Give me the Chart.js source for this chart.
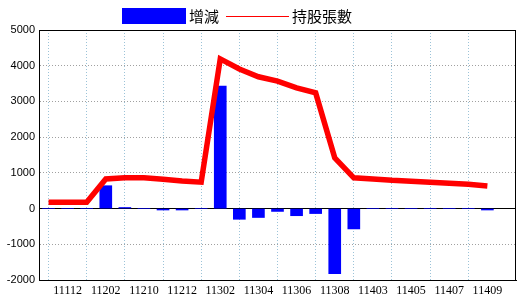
<!DOCTYPE html>
<html>
<head>
<meta charset="utf-8">
<script src="https://cdn.jsdelivr.net/npm/chart.js@4"></script>
<style>
  html, body { margin: 0; padding: 0; background: #fff; }
  canvas { display: block; }
</style>
</head>
<body>
<canvas id="holding-chart" width="520" height="300"></canvas>
<script>
// ---------- Data ----------
// 月份 (民國年+月)，最後一格留空
const months = ['11111', '11112', '11201', '11202', '11209', '11210', '11211', '11212',
    '11301', '11302', '11303', '11304', '11305', '11306', '11307', '11308',
    '11309', '11403', '11404', '11405', '11406', '11407', '11408', '11409', ''];

// 增減 (張)
const changes = [0, 0, 0, 640, 30, 0, -40, -40, 0, 3430, -300, -250, -80, -200, -140,
    -1820, -570, 0, 0, 0, 0, 0, 0, -40, null];

// 持股張數
const holdings = [180, 180, 180, 830, 860, 860, 820, 770, 740, 4190, 3910, 3690, 3570,
    3380, 3240, 1420, 860, 830, 790, 765, 735, 710, 680, 630, null];

const yTicks = { min: -2000, max: 5000, step: 1000 };

// ---------- Plugins ----------
// 外框
const frameBox = {
    id: 'frameBox',
    afterDraw(chart) {
        const { ctx, chartArea: a } = chart;
        ctx.save();
        ctx.strokeStyle = '#000';
        ctx.lineWidth = 1;
        ctx.strokeRect(a.left + 0.5, a.top + 0.5, a.right - a.left - 1, a.bottom - a.top);
        ctx.restore();
    },
};

// 上方圖例 (自己畫，位置對齊原圖)
const topLegend = {
    id: 'topLegend',
    afterDraw(chart) {
        const { ctx } = chart;
        const bar = chart.data.datasets.find(d => d.type === 'bar');
        const line = chart.data.datasets.find(d => d.type === 'line');
        ctx.save();
        ctx.font = '15px "Noto Sans CJK TC"';
        ctx.textBaseline = 'middle';
        ctx.fillStyle = bar.backgroundColor;
        ctx.fillRect(122, 8, 64, 16);
        ctx.fillStyle = '#000';
        ctx.fillText(bar.label, 189, 16);
        ctx.strokeStyle = line.borderColor;
        ctx.lineWidth = 1;
        ctx.beginPath();
        ctx.moveTo(226, 16.5);
        ctx.lineTo(289, 16.5);
        ctx.stroke();
        ctx.fillText(line.label, 292, 16);
        ctx.restore();
    },
};

// ---------- Chart ----------
new Chart(document.getElementById('holding-chart').getContext('2d'), {
    type: 'bar',
    data: {
        labels: months,
        datasets: [
            {
                type: 'line',
                label: '持股張數',
                data: holdings,
                borderColor: '#ff0000',
                backgroundColor: '#ff0000',
                borderWidth: 5.5,
                pointRadius: 0,
                tension: 0,
                order: 0,
            },
            {
                type: 'bar',
                label: '增減',
                data: changes,
                backgroundColor: '#0000ff',
                barThickness: 12,
                order: 1,
            },
        ],
    },
    options: {
        responsive: false,
        animation: false,
        events: [],
        layout: { padding: { top: 30, right: 4, left: 0, bottom: 0 } },
        plugins: {
            legend: { display: false },
            tooltip: { enabled: false },
        },
        scales: {
            x: {
                offset: true,
                afterFit: (s) => { s.height = 20; },
                grid: {
                    offset: false,
                    drawTicks: false,
                    lineWidth: 1,
                    color: (c) => (c.index % 2 === 0 && c.index < months.length - 1) ? '#9cc3d8' : 'rgba(0,0,0,0)',
                },
                border: { display: true, color: '#000', width: 1, dash: [1, 2] },
                ticks: {
                    autoSkip: false,
                    maxRotation: 0,
                    padding: 4,
                    color: '#000',
                    font: { family: '"Liberation Serif"', size: 12 },
                    callback: (v, i) => (i % 2 === 1 ? months[i] : ''),
                },
            },
            y: {
                min: yTicks.min,
                max: yTicks.max,
                afterFit: (s) => { s.width = 39; },
                grid: {
                    drawTicks: false,
                    lineWidth: 1,
                    color: (c) => (c.tick && c.tick.value === 0) ? '#000' : '#a0a0a0',
                },
                border: {
                    display: true,
                    color: '#000',
                    width: 1,
                    dash: (c) => (c.tick && c.tick.value === 0) ? [] : [1, 2],
                },
                ticks: {
                    stepSize: yTicks.step,
                    padding: 4,
                    color: '#000',
                    font: { family: '"Liberation Sans"', size: 11 },
                    callback: (v) => String(v),
                },
            },
        },
    },
    plugins: [frameBox, topLegend],
});
</script>
</body>
</html>
